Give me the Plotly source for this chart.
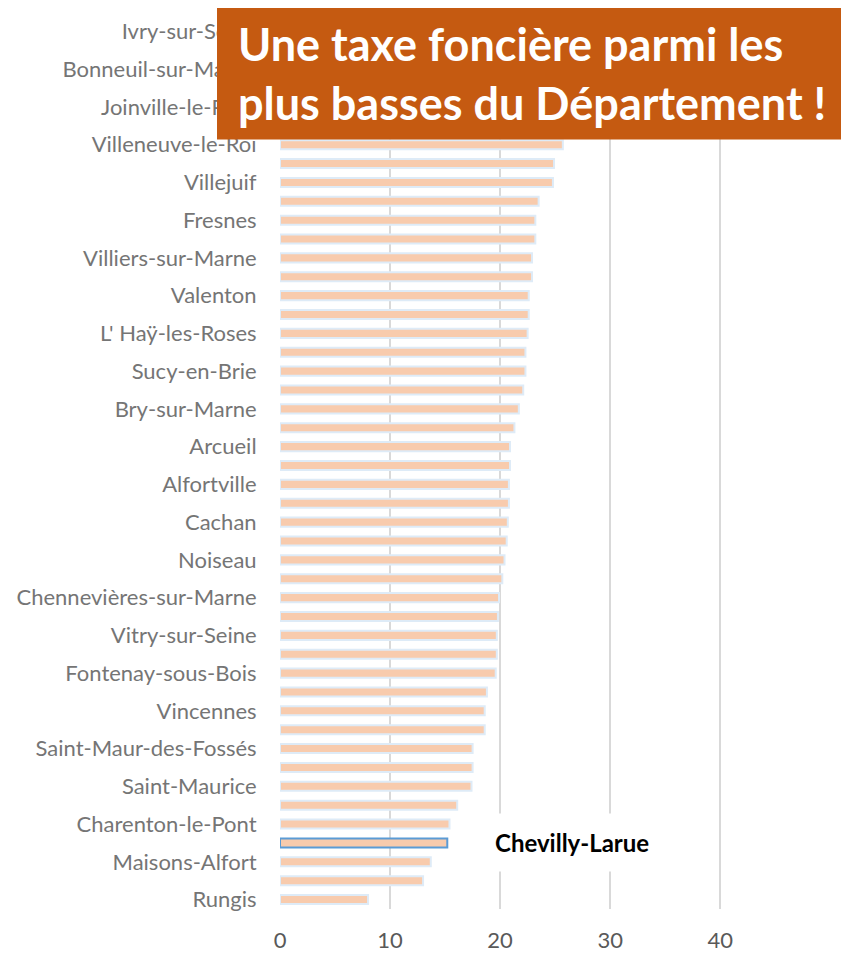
import plotly.graph_objects as go

# communes du Val-de-Marne, du bas vers le haut (les noms non affichés sont laissés vides)
communes = [
    "Rungis", "", "Maisons-Alfort", "Chevilly-Larue", "Charenton-le-Pont", "",
    "Saint-Maurice", "", "Saint-Maur-des-Fossés", "", "Vincennes", "",
    "Fontenay-sous-Bois", "", "Vitry-sur-Seine", "", "Chennevières-sur-Marne", "",
    "Noiseau", "", "Cachan", "", "Alfortville", "", "Arcueil", "",
    "Bry-sur-Marne", "", "Sucy-en-Brie", "", "L' Haÿ-les-Roses", "",
    "Valenton", "", "Villiers-sur-Marne", "", "Fresnes", "", "Villejuif", "",
    "Villeneuve-le-Roi", "", "Joinville-le-Pont", "", "Bonneuil-sur-Marne", "",
    "Ivry-sur-Seine",
]

# taux de taxe foncière (%)
taux = [
    8.0, 13.0, 13.7, 15.2, 15.4, 16.1,
    17.4, 17.5, 17.5, 18.6, 18.6, 18.8,
    19.6, 19.7, 19.7, 19.8, 19.9, 20.2,
    20.4, 20.6, 20.7, 20.8, 20.8, 20.9, 20.9, 21.3,
    21.7, 22.1, 22.3, 22.3, 22.5, 22.6,
    22.6, 22.9, 22.9, 23.2, 23.2, 23.5, 24.8, 24.9,
    25.7, 26.4, 27.0, 28.0, 29.0, 31.0,
    33.0,
]

x_ticks = [0, 10, 20, 30, 40]
highlight = "Chevilly-Larue"

pos = list(range(len(communes)))
line_colors = ["#5B9BD5" if c == highlight else "#DEEBF7" for c in communes]

fig = go.Figure()
fig.add_trace(go.Bar(
    x=taux, y=pos, orientation="h",
    marker=dict(color="#F8CBAD", line=dict(color=line_colors, width=2)),
    hoverinfo="skip",
))

# la page html ajoute 8px de marge autour du graphique
fig.update_layout(
    width=841, height=945,
    margin=dict(l=272, r=0, t=14, b=41),
    plot_bgcolor="white", paper_bgcolor="white",
    showlegend=False,
    bargap=0.52,
    font=dict(family="Lato", color="#757575"),
)
fig.update_xaxes(
    range=[0, 51.7], tickvals=x_ticks, showgrid=True, gridcolor="#D9D9D9", gridwidth=2,
    zeroline=False, showline=False, ticks="outside", ticklen=12,
    tickcolor="rgba(0,0,0,0)", tickfont=dict(size=22, color="#595959"),
)
fig.update_yaxes(
    range=[-0.5, len(communes) - 0.5], tickvals=pos[::2], ticktext=communes[::2],
    showgrid=False, zeroline=False, showline=False, ticks="outside", ticklen=18,
    tickcolor="rgba(0,0,0,0)", tickfont=dict(size=22, color="#757575"),
)

# encadré titre
fig.add_shape(type="rect", xref="paper", yref="paper",
              x0=-0.1107, x1=1.0, y0=0.8674, y1=1.0202,
              fillcolor="#C55A11", line=dict(width=0), layer="above")
fig.add_annotation(xref="paper", yref="paper", x=-0.078, y=0.9416,
                   xanchor="left", yanchor="middle", align="left", showarrow=False,
                   text="Une taxe foncière parmi les<br>plus basses du Département !",
                   font=dict(family="Lato", size=45, color="white", weight="bold"))

# étiquette de la commune mise en avant
fig.add_annotation(x=26.5, y=communes.index(highlight), text="<b>" + highlight + "</b>",
                   showarrow=False, bgcolor="white", borderpad=14,
                   font=dict(family="Lato", size=24, color="black"))

fig.write_html("out.html")
